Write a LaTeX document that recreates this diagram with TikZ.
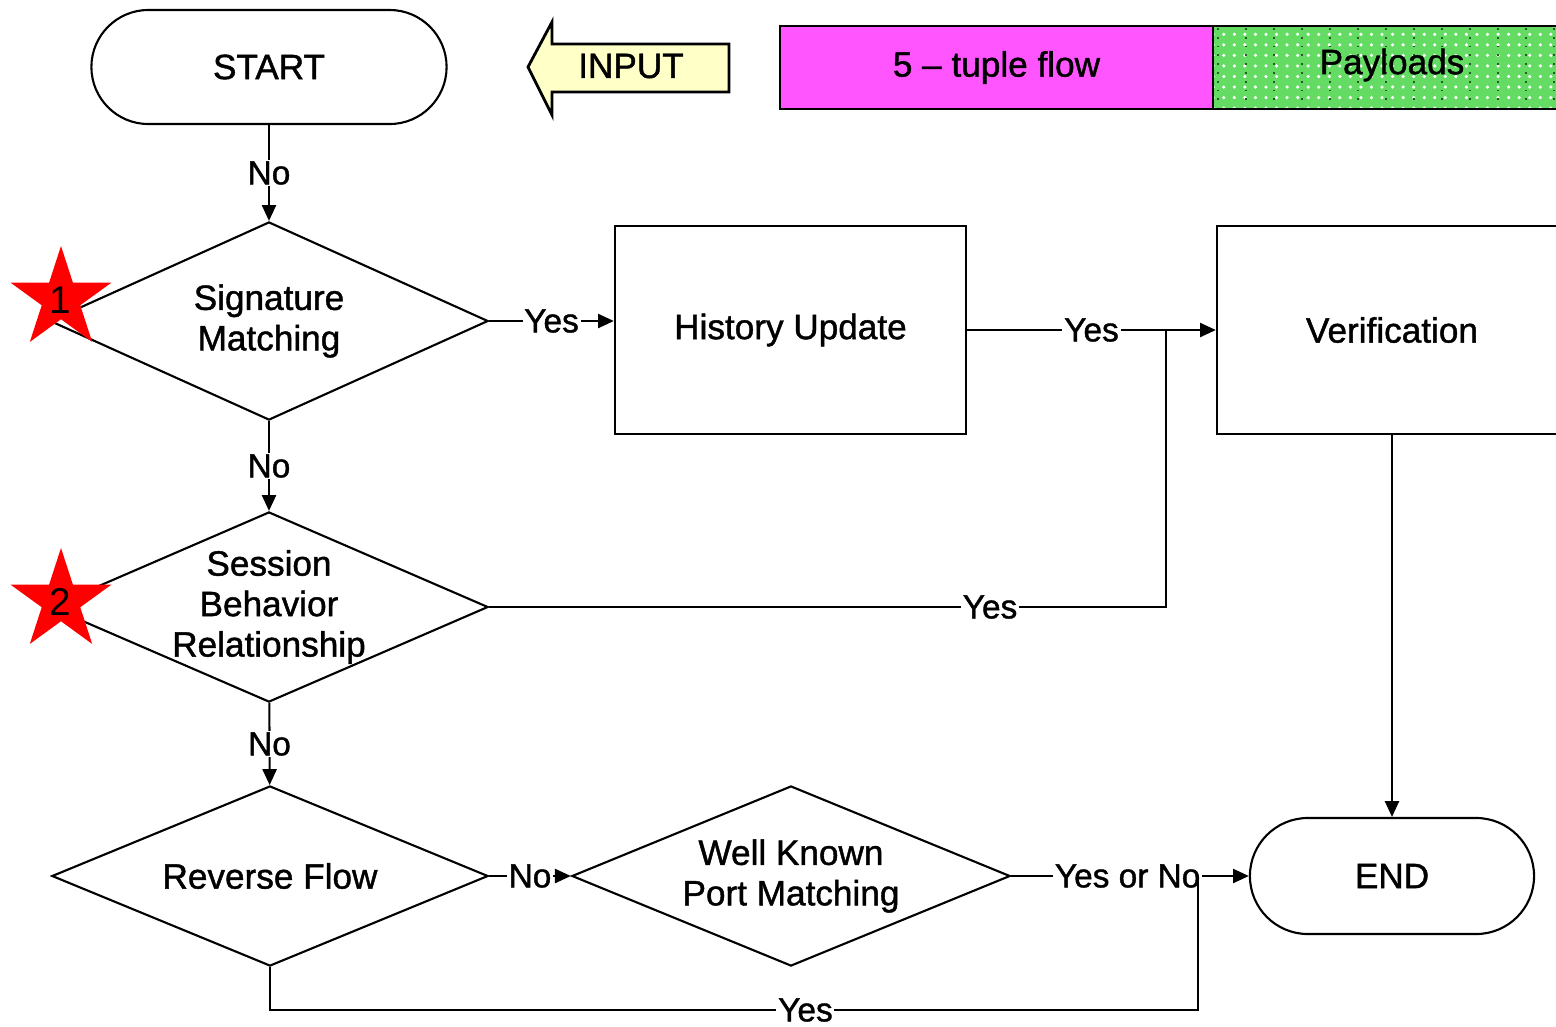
\documentclass[tikz,border=0pt]{standalone}
\usepackage{fontspec}
\setmainfont{Liberation Sans}
\newfontfamily\chartfont{Liberation Sans}[Ligatures=TeX,UprightFeatures={FakeBold=1.2}]
\usetikzlibrary{shapes.geometric,arrows.meta,patterns}
\definecolor{inputyellow}{RGB}{255,255,200}
\definecolor{tuplemagenta}{RGB}{255,85,255}
\definecolor{payloadgreen}{RGB}{100,220,100}
\definecolor{payloaddark}{RGB}{40,90,40}
\begin{document}
\begin{tikzpicture}[x=0.01cm,y=-0.01cm,
  line width=0.6pt,
  every node/.style={font=\chartfont\fontsize{10}{11.5}\selectfont},
  arr/.style={-{Triangle[length=4.5pt,width=4pt]}},
  term/.style={draw,rectangle,inner sep=0pt},
  decision/.style={draw,diamond,inner sep=0pt,align=center},
  process/.style={draw,rectangle,inner sep=0pt},
  lbl/.style={fill=white,inner sep=0.5pt,font=\chartfont\fontsize{9.5}{11}\selectfont},
  redstar/.style={star,star points=5,star point ratio=2.618,fill=red,draw=none,inner sep=0pt,minimum size=1.06cm},
  starnum/.style={font=\fontsize{11}{13}\selectfont}]
\useasboundingbox (0,0) rectangle (1556,1026);
\clip (0,0) rectangle (1556,1026);

% terminals
\node[term,minimum width=3.55cm,minimum height=1.14cm,rounded corners=0.57cm] (start) at (269,67) {START};
\node[term,minimum width=2.84cm,minimum height=1.16cm,rounded corners=0.58cm] (end) at (1392,876) {END};

% input arrow
\filldraw[fill=inputyellow,line width=0.8pt] (729,44) -- (552,44) -- (552,22) -- (528,67) -- (552,115) -- (552,92) -- (729,92) -- cycle;
\node (input) at (631,66) {INPUT};

% packet layout
\node[draw,fill=tuplemagenta,minimum width=4.33cm,minimum height=0.83cm,inner sep=0pt] (tuple) at (996.5,67.5) {5 \textendash{} tuple flow};
\fill[payloadgreen] (1213,26) rectangle (1570,109);
\fill[pattern=dots,pattern color=white] (1213,26) rectangle (1570,109);
\foreach \xx in {1218,1246,1274,1302,1330,1358,1386,1414,1442,1470,1498,1526,1554}
  \draw[payloaddark,dotted,line width=0.5pt] (\xx,28) -- (\xx,107);
\draw (1213,26) -- (1570,26) (1213,109) -- (1570,109) (1213,26) -- (1213,109);
\node (payload) at (1392,65) {Payloads};

% decisions
\node[decision,aspect=2.21,minimum width=4.38cm,minimum height=1.98cm] (sig) at (269,321) {Signature\\Matching};
\node[decision,aspect=2.3,inner sep=-10pt,minimum width=4.38cm,minimum height=1.90cm] (sess) at (269,607) {Session\\Behavior\\Relationship};
\node[decision,aspect=2.42,minimum width=4.36cm,minimum height=1.80cm] (rev) at (270,876) {Reverse Flow};
\node[decision,aspect=2.43,minimum width=4.38cm,minimum height=1.80cm] (wk) at (791,876) {Well Known\\Port Matching};

% processes
\node[process,minimum width=3.51cm,minimum height=2.08cm] (hist) at (790.5,330) {History Update};
\node[process,minimum width=3.50cm,minimum height=2.08cm] (ver) at (1392,330) {Verification};

% connectors
\draw[arr] (start) -- node[lbl]{No} (sig);
\draw[arr] (sig) -- node[lbl]{No} (sess);
\draw[arr] (sess) -- node[lbl]{No} (rev);
\draw[arr] (sig.east) -- node[lbl]{Yes} (sig.east -| hist.west);
\draw[arr] (hist.east) -- node[lbl]{Yes} (ver.west);
\coordinate (j1) at (1166,330);
\draw (sess.east) -- node[lbl,pos=0.74]{Yes} (sess.east -| j1) -- (j1);
\draw[arr] (ver.south) -- (end.north);
\draw[arr] (rev.east) -- node[lbl]{No} (wk.west);
\draw[arr] (wk.east) -- node[lbl,pos=0.49]{Yes or No} (end.west);
\coordinate (j2) at (1198,876);
\coordinate (b1) at (270,1010);
\coordinate (b2) at (1198,1010);
\draw (rev.south) -- (b1) -- node[lbl,pos=0.577]{Yes} (b2) -- (j2);

% markers
\node[redstar] (star1) at (61,299) {};
\node[starnum] (num1) at (60,300) {1};
\node[redstar] (star2) at (61,601) {};
\node[starnum] (num2) at (60,602) {2};
\end{tikzpicture}
\end{document}
